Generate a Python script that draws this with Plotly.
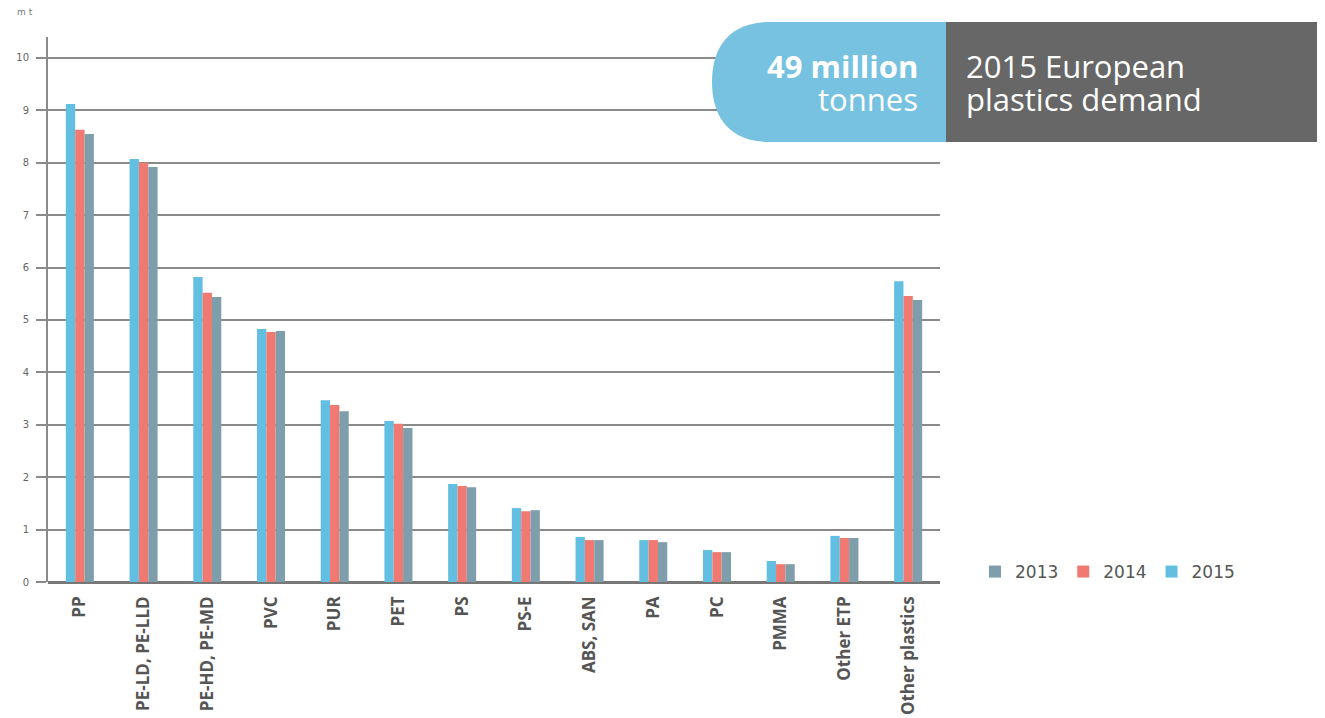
import plotly.graph_objects as go

categories = ["PP", "PE-LD, PE-LLD", "PE-HD, PE-MD", "PVC", "PUR", "PET", "PS", "PS-E",
              "ABS, SAN", "PA", "PC", "PMMA", "Other ETP", "Other plastics"]
v2015 = [9.12, 8.07, 5.82, 4.83, 3.47, 3.07, 1.87, 1.41, 0.86, 0.80, 0.61, 0.40, 0.88, 5.74]
v2014 = [8.63, 8.00, 5.52, 4.77, 3.38, 3.02, 1.83, 1.35, 0.80, 0.80, 0.57, 0.34, 0.84, 5.46]
v2013 = [8.55, 7.92, 5.44, 4.79, 3.26, 2.94, 1.81, 1.37, 0.80, 0.76, 0.57, 0.34, 0.84, 5.38]
y_ticks = list(range(0, 11))

OFF = 8  # page body margin
W, H = 1325 - OFF, 718 - OFF
L, T = 48 - OFF, 37 - OFF
R = W - (940 - OFF)
B = H - (582 - OFF)
pw, ph = W - L - R, H - T - B

def px(x):
    return (x - OFF - L) / pw

def py(y):
    return (H - B - (y - OFF)) / ph

fig = go.Figure()
fig.add_trace(go.Bar(name="2015", x=categories, y=v2015, marker_color="#62bfe2", marker_line_width=0))
fig.add_trace(go.Bar(name="2014", x=categories, y=v2014, marker_color="#f07a72", marker_line_width=0))
fig.add_trace(go.Bar(name="2013", x=categories, y=v2013, marker_color="#7f9eab", marker_line_width=0))

# header shapes
x0, xm, x1 = 712, 946, 1325
ya, yb = 22, 142
ymid = (ya + yb) / 2
path = (f"M {px(xm)},{py(ya)} L {px(770)},{py(ya)} "
        f"C {px(725)},{py(ya)} {px(x0)},{py(ymid-30)} {px(x0)},{py(ymid)} "
        f"C {px(x0)},{py(ymid+30)} {px(725)},{py(yb)} {px(770)},{py(yb)} "
        f"L {px(xm)},{py(yb)} Z")
shapes = [
    dict(type="path", xref="paper", yref="paper", path=path,
         fillcolor="#76c2e0", line=dict(width=0), layer="above"),
    dict(type="rect", xref="paper", yref="paper", x0=px(xm), x1=px(x1), y0=py(yb), y1=py(ya),
         fillcolor="#666766", line=dict(width=0), layer="above"),
]

hf = 31
annotations = [
    dict(text="m t", x=px(15), y=py(12), xref="paper", yref="paper", xanchor="left", yanchor="middle",
         showarrow=False, font=dict(size=9, color="#777", family="DejaVu Sans")),
    dict(text="<b>49 million</b>", x=px(920), y=py(66), xref="paper", yref="paper",
         xanchor="right", yanchor="middle", showarrow=False,
         font=dict(size=hf, color="white", family="Open Sans")),
    dict(text="tonnes", x=px(920), y=py(99), xref="paper", yref="paper",
         xanchor="right", yanchor="middle", showarrow=False,
         font=dict(size=hf, color="white", family="Open Sans")),
    dict(text="2015 European", x=px(964), y=py(66), xref="paper", yref="paper",
         xanchor="left", yanchor="middle", showarrow=False,
         font=dict(size=hf, color="white", family="Open Sans")),
    dict(text="plastics demand", x=px(964), y=py(99), xref="paper", yref="paper",
         xanchor="left", yanchor="middle", showarrow=False,
         font=dict(size=hf, color="white", family="Open Sans")),
]

fig.update_layout(
    width=W, height=H,
    margin=dict(l=L, r=R, t=T, b=B, autoexpand=False),
    paper_bgcolor="white", plot_bgcolor="white",
    barmode="group", bargap=0.56, bargroupgap=0,
    showlegend=True,
    legend=dict(orientation="h", x=px(975), y=py(572), xanchor="left", yanchor="middle",
                traceorder="reversed", font=dict(size=17, color="#555", family="DejaVu Sans"),
                itemwidth=30, bgcolor="rgba(0,0,0,0)"),
    shapes=shapes, annotations=annotations,
    xaxis=dict(showgrid=False, showline=False, ticks="", tickangle=-90, ticklabelstandoff=10,
               tickfont=dict(size=17, color="#555", family="Open Sans", weight="bold")),
    yaxis=dict(range=[0, 10.4], tickvals=y_ticks, ticktext=[str(v) for v in y_ticks],
               showgrid=True, gridcolor="#8a8a8a", gridwidth=2,
               showline=True, linecolor="#8a8a8a", linewidth=2,
               ticks="outside", ticklen=10, tickcolor="#8a8a8a", tickwidth=2,
               ticklabelstandoff=5,
               zeroline=True, zerolinecolor="#777", zerolinewidth=3,
               tickfont=dict(size=10, color="#666", family="DejaVu Sans")),
)

fig.write_html("out.html")
